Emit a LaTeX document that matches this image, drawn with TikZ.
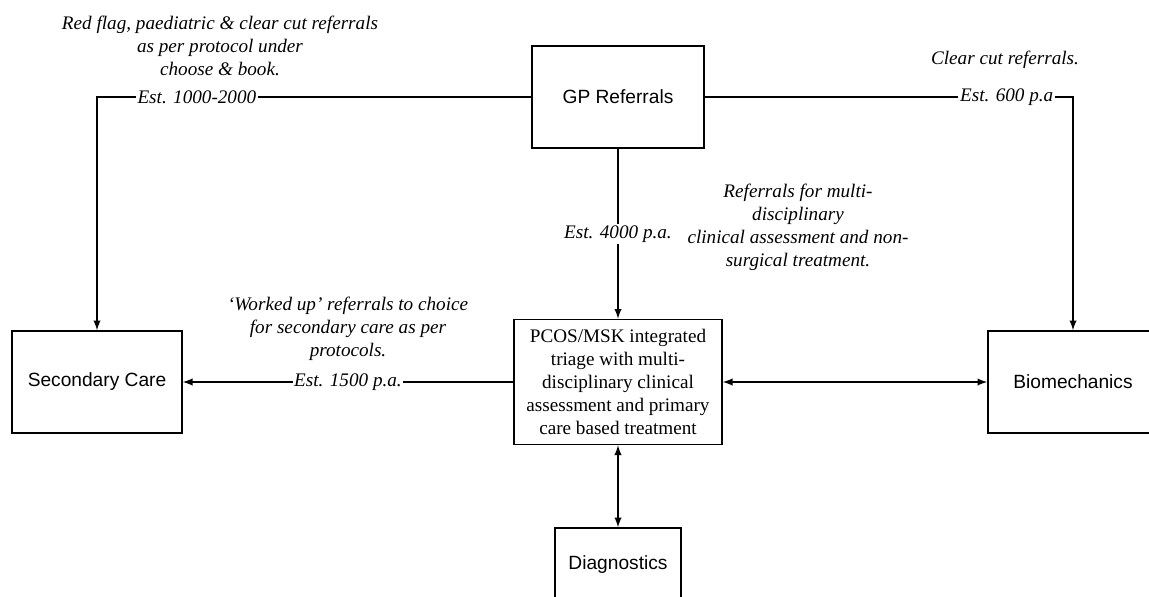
\documentclass[tikz,border=0pt]{standalone}
\usepackage{fontspec}
\setmainfont{Liberation Serif}
\newfontfamily\arial{Liberation Sans}
\begin{document}
\begin{tikzpicture}[x=0.6pt,y=-0.6pt,line width=1pt,
    box/.style={draw,rectangle,font=\arial\fontsize{11.5}{13.8}\selectfont},
    note/.style={align=center,font=\itshape\fontsize{11.5}{13.8}\selectfont},
    est/.style={fill=white,inner sep=1pt,font=\itshape\fontsize{11.5}{13.8}\selectfont}]
    \useasboundingbox (0,0) rectangle (1149,596);
    \node[box,minimum width=103.2pt,minimum height=61.2pt] (gp) at (618,97) {GP Referrals};
    \node[box,minimum width=102pt,minimum height=61.2pt] (sec) at (97,382) {Secondary Care};
    \node[box,minimum width=102pt,minimum height=61.2pt] (bio) at (1073,382) {Biomechanics};
    \node[box,align=center,font=\fontsize{11.5}{13.8}\selectfont,minimum width=124.8pt,minimum height=75pt] (pcos) at (618,382) {PCOS/MSK integrated\\triage with multi-\\disciplinary clinical\\assessment and primary\\care based treatment};
    \node[box,minimum width=75.6pt,minimum height=44.4pt] (diag) at (618,565) {Diagnostics};
    \node[note] (redflag) at (220,46) {Red flag, paediatric \& clear cut referrals\\as per protocol under\\choose \& book.};
    \node[note] (clearcut) at (1005,60) {Clear cut referrals.};
    \node[note] (multi) at (798,227) {Referrals for multi-\\disciplinary\\clinical assessment and non-\\surgical treatment.};
    \node[note] (workedup) at (348,329) {‘Worked up’ referrals to choice\\for secondary care as per\\protocols.};
    \draw[-latex] (gp.west) -| node[est,pos=0.385]{Est. 1000-2000} (sec.north);
    \draw[-latex] (gp.east) -| node[est,pos=0.41]{Est. 600 p.a} (bio.north);
    \draw[-latex] (gp.south) -- node[est]{Est. 4000 p.a.} (pcos.north);
    \draw[-latex] (pcos.west) -- node[est]{Est. 1500 p.a.} (sec.east);
    \draw[latex-latex] (pcos.east) -- (bio.west);
    \draw[latex-latex] (pcos.south) -- (diag.north);
\end{tikzpicture}
\end{document}
